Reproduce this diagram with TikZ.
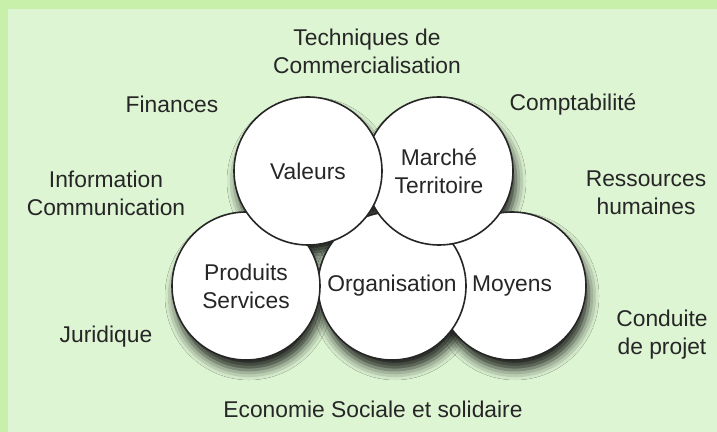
\documentclass[tikz,border=0pt]{standalone}
\usepackage{fontspec}
\setmainfont{Liberation Sans}
\usetikzlibrary{shadows.blur}

\definecolor{panel}{RGB}{222,245,212}
\definecolor{cadre}{RGB}{200,240,170}
\definecolor{encre}{RGB}{38,38,38}

\tikzset{
  rond/.style={circle, draw=black!85, line width=0.8pt, fill=white,
    minimum size=74pt, inner sep=0pt, align=center, text=encre},
  champ/.style={align=center, text=encre},
  ombre/.style={fill=white, blur shadow={shadow xshift=1.5pt, shadow yshift=-5pt,
    shadow blur radius=5pt, shadow opacity=85}},
}

\begin{document}
\begin{tikzpicture}[x=0.5pt,y=-0.5pt]
  \fontsize{11.4}{14}\selectfont
  \useasboundingbox (0,0) rectangle (717,432);

% background
  \fill[cadre] (0,0) rectangle (717,432);
  \fill[panel] (8,9) rectangle (717,432);

% shadows first, so that no circle is darkened by another
  \foreach \x/\y in {512/286,392/286,246/286,439/171,308/171}{
    \path[ombre] (\x,\y) circle (37pt);
  }

% circles, back to front
  \foreach \nom/\x/\y/\texte in {moyens/512/286/Moyens,
      organisation/392/286/Organisation,
      produits/246/286/{Produits\\Services},
      marche/439/171/{Marché\\Territoire},
      valeurs/308/171/Valeurs}{
    \node[rond] (\nom) at (\x,\y) {\texte};
  }

% fields around
  \node[champ] (techniques) at (367,51) {Techniques de\\Commercialisation};
  \node[champ] (finances) at (172,104) {Finances};
  \node[champ] (compta) at (573,104) {Comptabilité};
  \node[champ] (information) at (106,193) {Information\\Communication};
  \node[champ] (ressources) at (646,193) {Ressources\\humaines};
  \node[champ] (juridique) at (106,337) {Juridique};
  \node[champ] (projet) at (662,335) {Conduite\\de projet};
  \node[champ] (economie) at (373,409) {Economie Sociale et solidaire};

\end{tikzpicture}
\end{document}
